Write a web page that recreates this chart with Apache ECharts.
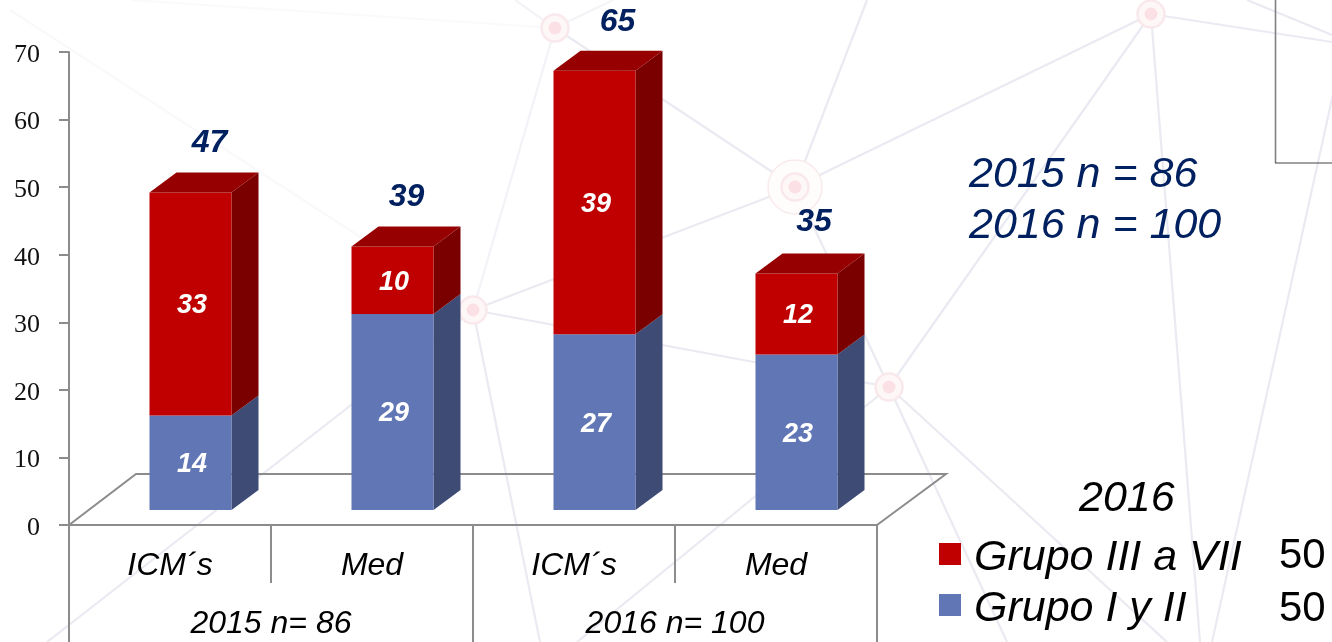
<!DOCTYPE html>
<html>
<head>
<meta charset="utf-8">
<script src="https://cdn.jsdelivr.net/npm/echarts@6/dist/echarts.min.js"></script>
<style>html,body{margin:0;padding:0;background:#fff}#c{width:1332px;height:642px}</style>
</head>
<body>
<div id="c"></div>
<script>
// ---- data ----
const categories = ['ICM\u00B4s', 'Med', 'ICM\u00B4s', 'Med'];
const groups = ['2015 n= 86', '2016 n= 100'];
const groupLow = [14, 29, 27, 23];      // Grupo I y II, printed labels
const groupHigh = [33, 10, 39, 12];     // Grupo III a VII, printed labels
const totals = [47, 39, 65, 35];        // printed totals (bar heights)
const yTicks = [0, 10, 20, 30, 40, 50, 60, 70];
const legendNames = ['Grupo III a VII', 'Grupo I y II'];
const legendValues = [50, 50];
const legendTitle = '2016';
const sampleLines = ['2015 n = 86', '2016 n = 100'];

// ---- style constants ----
const SANS = '"Liberation Sans", Arial, sans-serif';
const SERIF = '"Liberation Serif", "DejaVu Serif", serif';
const NAVY = '#002060', AXIS = '#8c8c8c';
const RED = {front: '#C00000', side: '#7A0000', top: '#960000'};
const BLUE = {front: '#6076B5', side: '#3D4B75', top: '#4D5F93'};
const DX = 27, DY = -20, LIFT = 15, SHIFT = 20.5, BAR = 82;
const TOTAL_NUDGE = [[0, 2], [-5, 2], [4, 2], [-1.5, 0]];

function poly(points, fill) {
  return {type: 'polygon', shape: {points}, style: {fill}, silent: true};
}
function segmentRenderer(pal, withTop) {
  return function (params, api) {
    const i = api.value(0), a = api.value(1), b = api.value(2), label = api.value(3);
    const cx = api.coord([i, 0])[0] + SHIFT;
    const yb = api.coord([i, a])[1] - LIFT, yt = api.coord([i, b])[1] - LIFT;
    const x0 = cx - BAR / 2, x1 = cx + BAR / 2;
    const children = [
      poly([[x1, yb], [x1 + DX, yb + DY], [x1 + DX, yt + DY], [x1, yt]], pal.side),
      poly([[x0, yb], [x1, yb], [x1, yt], [x0, yt]], pal.front)
    ];
    if (withTop) children.push(poly([[x0, yt], [x1, yt], [x1 + DX, yt + DY], [x0 + DX, yt + DY]], pal.top));
    children.push({type: 'text', silent: true, z2: 5, style: {
      text: String(label), x: cx + 1.5, y: (yb + yt) / 2 + 2, align: 'center', verticalAlign: 'middle',
      fill: '#fff', font: 'italic bold 27px ' + SANS}});
    return {type: 'group', children};
  };
}
function floorRenderer(params) {
  const c = params.coordSys, x = c.x, y = c.y + c.height, r = c.x + c.width;
  return {type: 'polyline', silent: true,
    shape: {points: [[x, y], [x + 67, y - 51], [r + 69, y - 51], [r, y]]},
    style: {stroke: AXIS, lineWidth: 2, fill: 'rgba(0,0,0,0)'}};
}
function totalRenderer(params, api) {
  const i = api.value(0), v = api.value(1);
  const p = api.coord([i, v]);
  const n = TOTAL_NUDGE[i];
  return {type: 'text', silent: true, style: {
    text: String(v), x: p[0] + SHIFT + 19 + n[0], y: p[1] - LIFT - 51 + n[1], align: 'center', verticalAlign: 'middle',
    fill: NAVY, font: 'italic bold 32px ' + SANS}};
}

// ---- decorative backdrop ----
const bgNodes = [[555, 28, 0], [1151, 14, 0], [795, 187, 1], [473, 310, 0], [889, 387, 0]];
const bgLines = [
  [555,28,795,187,1],[555,28,473,310,.6],[555,28,515,0,.5],[555,28,613,0,.5],[555,28,130,0,.25],
  [795,187,867,0,1],[795,187,1151,14,1],[795,187,473,310,1],[795,187,889,387,1],
  [473,310,889,387,1],[473,310,47,642,1],[473,310,540,642,1],[473,310,10,10,.3],
  [1151,14,1332,42,1],[1151,14,889,387,1],[1151,14,1200,642,1],
  [1345,40,1212,642,1],[1247,0,1332,35,1],
  [889,387,577,642,1],[889,387,1167,642,1],[889,387,1007,642,1]
];
const bg = [];
bgLines.forEach(l => bg.push({type: 'line', silent: true, z: -3,
  shape: {x1: l[0], y1: l[1], x2: l[2], y2: l[3]},
  style: {stroke: '#EAEAF2', lineWidth: 2.2, opacity: l[4]}}));
bgNodes.forEach(n => {
  if (n[2]) bg.push({type: 'circle', silent: true, z: -2, shape: {cx: n[0], cy: n[1], r: 27},
    style: {fill: '#FFFCFC', stroke: '#F9EAED', lineWidth: 1.5}});
  bg.push({type: 'circle', silent: true, z: -2, shape: {cx: n[0], cy: n[1], r: 13.5},
    style: {fill: '#FEF7F8', stroke: '#F9E9EC', lineWidth: 2.5}});
  bg.push({type: 'circle', silent: true, z: -2, shape: {cx: n[0], cy: n[1], r: 6.5},
    style: {fill: '#FBE1E6'}});
});
bg.push({type: 'line', silent: true, z: -1, shape: {x1: 1275.5, y1: 0, x2: 1275.5, y2: 163}, style: {stroke: '#808080', lineWidth: 1.6}});
bg.push({type: 'line', silent: true, z: -1, shape: {x1: 1275, y1: 163, x2: 1332, y2: 163}, style: {stroke: '#444', lineWidth: 1.2}});

// ---- free text ----
const texts = [];
sampleLines.forEach((t, k) => texts.push({type: 'text', silent: true, style: {
  text: t, x: 969, y: 175 + k * 51, align: 'left', verticalAlign: 'middle',
  fill: NAVY, font: 'italic 43px ' + SANS}}));
texts.push({type: 'text', silent: true, style: {
  text: legendTitle, x: 1079, y: 499, align: 'left', verticalAlign: 'middle',
  fill: '#000', font: 'italic 43px ' + SANS}});
legendValues.forEach((v, k) => texts.push({type: 'text', silent: true, style: {
  text: String(v), x: 1279, y: 556 + k * 53, align: 'left', verticalAlign: 'middle',
  fill: '#000', font: '42px ' + SANS}}));

const chart = echarts.init(document.getElementById('c'), null, {renderer: 'canvas'});
const lowData = categories.map((c, i) => [i, 0, totals[i] - groupHigh[i], groupLow[i]]);
const highData = categories.map((c, i) => [i, totals[i] - groupHigh[i], totals[i], groupHigh[i]]);

chart.setOption({
  animation: false,
  backgroundColor: '#fff',
  grid: {left: 69, right: 455, top: 52, bottom: 117, containLabel: false},
  xAxis: [
    {type: 'category', data: categories, position: 'bottom', boundaryGap: true,
      axisLine: {show: true, lineStyle: {color: AXIS, width: 2}},
      axisTick: {show: true, length: 58, alignWithLabel: false, lineStyle: {color: AXIS, width: 2}},
      axisLabel: {show: true, interval: 0, margin: 26, color: '#000', fontFamily: SANS, fontStyle: 'italic', fontSize: 32, lineHeight: 31}},
    {type: 'category', data: groups, position: 'bottom', boundaryGap: true,
      axisLine: {show: false},
      axisTick: {show: true, length: 117, alignWithLabel: false, lineStyle: {color: AXIS, width: 2}},
      axisLabel: {show: true, interval: 0, margin: 84, color: '#000', fontFamily: SANS, fontStyle: 'italic', fontSize: 32, lineHeight: 31}}
  ],
  yAxis: {type: 'value', min: yTicks[0], max: yTicks[yTicks.length - 1], interval: 10,
    splitLine: {show: false},
    axisLine: {show: true, lineStyle: {color: AXIS, width: 2}},
    axisTick: {show: true, length: 10, lineStyle: {color: AXIS, width: 2}},
    axisLabel: {margin: 29, formatter: '{t|{value}}',
      rich: {t: {color: '#111', fontFamily: SERIF, fontSize: 26, lineHeight: 26, padding: [6, 0, 0, 0]}}}},
  legend: {
    orient: 'vertical', left: 939, top: 528.5, padding: 0, itemWidth: 22, itemHeight: 22, itemGap: 0,
    selectedMode: false,
    formatter: '{g|{name}}',
    textStyle: {rich: {g: {color: '#000', fontFamily: SANS, fontStyle: 'italic', fontSize: 43, lineHeight: 41, padding: [8, 0, 0, 8]}}},
    data: [
      {name: legendNames[0], icon: 'rect', itemStyle: {color: RED.front}},
      {name: legendNames[1], icon: 'rect', itemStyle: {color: BLUE.front}}
    ]
  },
  graphic: {elements: bg.concat(texts)},
  series: [
    {type: 'custom', name: 'floor', z: 1, clip: false, silent: true, xAxisIndex: 0, data: [[0, 0]], renderItem: floorRenderer},
    {type: 'custom', name: legendNames[1], z: 2, clip: false, silent: true, xAxisIndex: 0, itemStyle: {color: BLUE.front},
      encode: {x: 0, y: [1, 2]}, data: lowData, renderItem: segmentRenderer(BLUE, false)},
    {type: 'custom', name: legendNames[0], z: 3, clip: false, silent: true, xAxisIndex: 0, itemStyle: {color: RED.front},
      encode: {x: 0, y: [1, 2]}, data: highData, renderItem: segmentRenderer(RED, true)},
    {type: 'custom', name: 'Total', z: 4, clip: false, silent: true, xAxisIndex: 0,
      encode: {x: 0, y: 1}, data: totals.map((t, i) => [i, t]), renderItem: totalRenderer}
  ]
});
</script>
</body>
</html>
